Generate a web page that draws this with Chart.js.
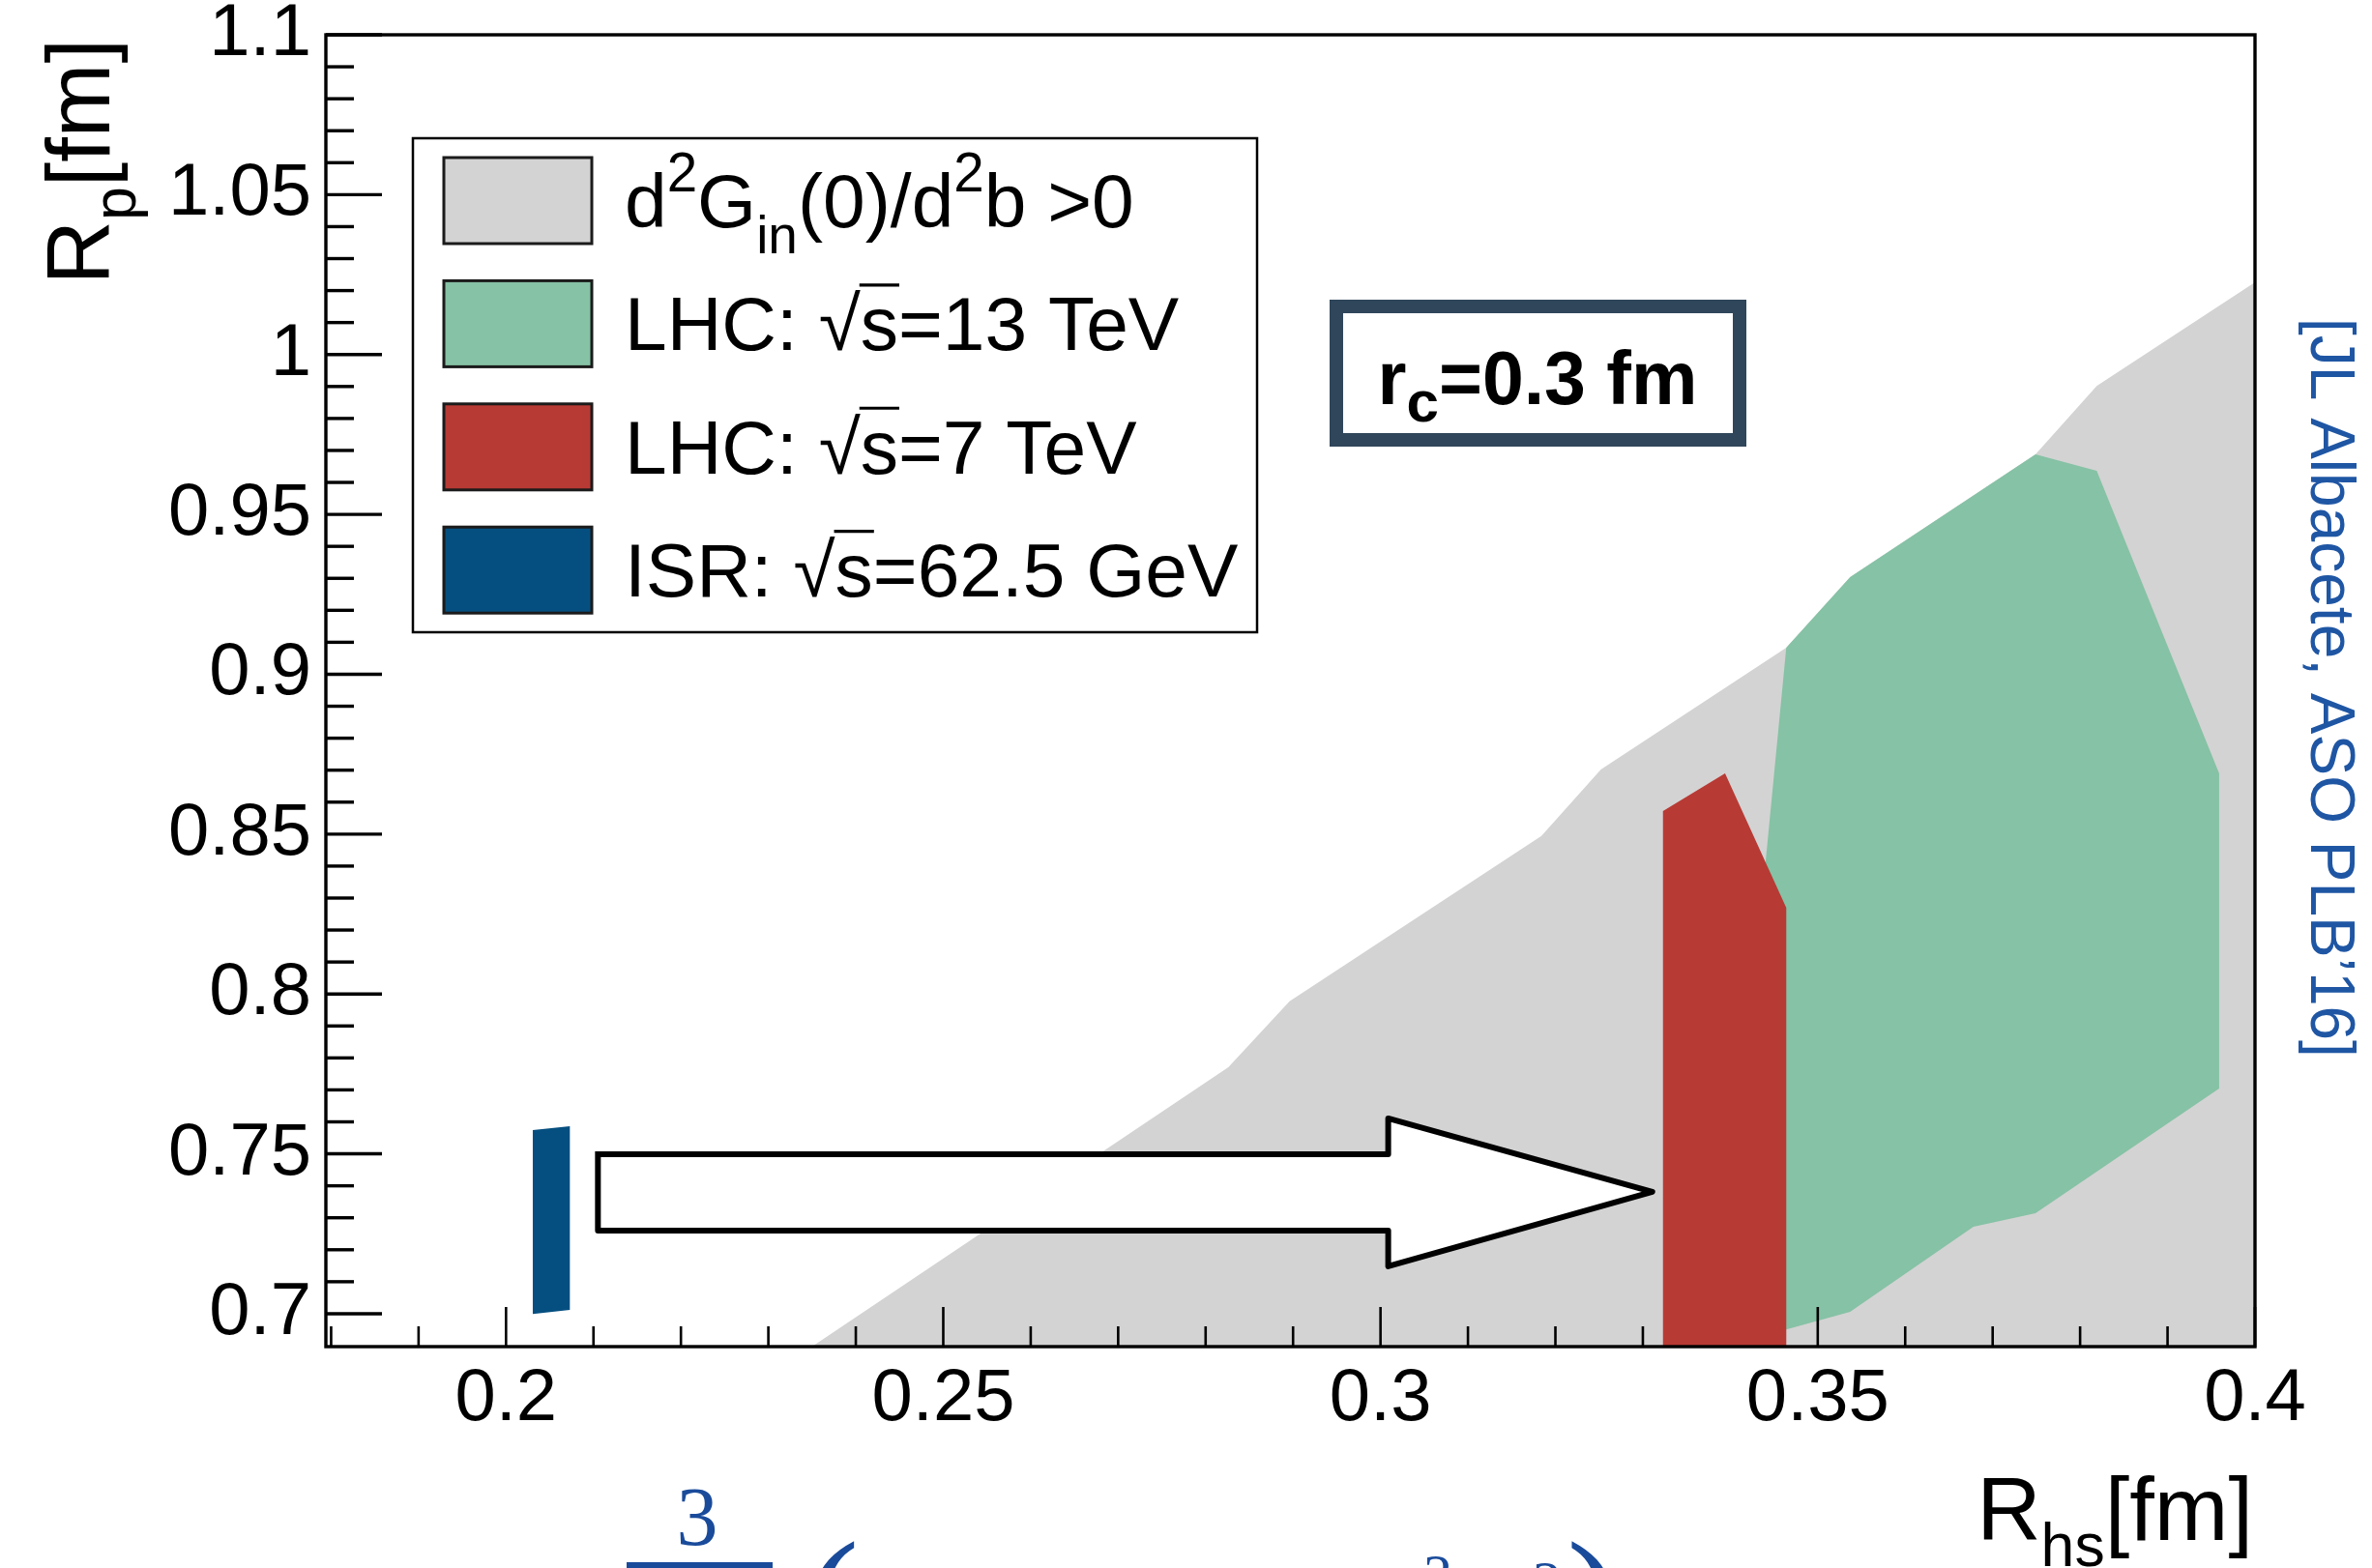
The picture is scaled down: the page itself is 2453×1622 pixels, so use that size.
<!DOCTYPE html>
<html>
<head>
<meta charset="utf-8">
<script src="https://cdn.jsdelivr.net/npm/chart.js@4.4.1/dist/chart.umd.min.js"></script>
<style>
  html, body { margin: 0; padding: 0; background: #fff; }
  canvas { display: block; }
</style>
</head>
<body>
<canvas id="chart" width="2453" height="1622"></canvas>
<script>
const FONT = 'Liberation Sans';

// Axis ranges and labelled ticks
const X_MIN = 0.1794, X_MAX = 0.4;
const Y_MIN = 0.6897, Y_MAX = 1.1;
const xMajor = [0.2, 0.25, 0.3, 0.35, 0.4];
const yMajor = [0.7, 0.75, 0.8, 0.85, 0.9, 0.95, 1, 1.05, 1.1];

// d2G_in(0)/d2b > 0 region (R_hs, R_p contour)
const greyRhs = [0.2297, 0.2826, 0.2896, 0.3184, 0.3252, 0.3464, 0.3537, 0.3749, 0.3819, 0.401, 0.401];
const greyRp  = [0.68,   0.7771, 0.7977, 0.8494, 0.8702, 0.9083, 0.9304, 0.9688, 0.9902, 1.0244, 0.68];

// LHC 13 TeV
const lhc13Rhs = [0.3464, 0.3537, 0.3749, 0.3819, 0.3959, 0.3959, 0.3749, 0.3678, 0.3537, 0.3464, 0.3440, 0.3440];
const lhc13Rp  = [0.9083, 0.9304, 0.9688, 0.9636, 0.8690, 0.7704, 0.7314, 0.7272, 0.7006, 0.6951, 0.6951, 0.8403];

// LHC 7 TeV
const lhc7Rhs = [0.3323, 0.3394, 0.3464, 0.3464, 0.3323];
const lhc7Rp  = [0.8572, 0.8690, 0.8270, 0.68,   0.68];

// ISR 62.5 GeV
const isrRhs = [0.20306, 0.2073, 0.2073, 0.20306];
const isrRp  = [0.75745, 0.75866, 0.70121, 0.6999];

// arrow from ISR to LHC
const arrowRhs = [0.21051, 0.30088, 0.30088, 0.33108, 0.30088, 0.30088, 0.21051, 0.21051];
const arrowRp  = [0.74989, 0.74989, 0.76108, 0.73810, 0.71482, 0.72600, 0.72600, 0.74989];

const seriesNames = ['d²G_in(0)/d²b >0', 'LHC: √s=13 TeV', 'LHC: √s=7 TeV', 'ISR: √s=62.5 GeV'];
const seriesColors = ['#d3d3d3', '#86c2a5', '#b83a34', '#054f80'];

// legend texts as runs: [text, kind]
const legendText = [
  [['d', ''], ['2', 'sup'], ['G', ''], ['in', 'sub'], ['(0)/d', ''], ['2', 'sup'], ['b >0', '']],
  [['LHC: ', ''], ['√', ''], ['s', 'over'], ['=13 TeV', '']],
  [['LHC: ', ''], ['√', ''], ['s', 'over'], ['=7 TeV', '']],
  [['ISR: ', ''], ['√', ''], ['s', 'over'], ['=62.5 GeV', '']]
];
const xTitle = [['R', ''], ['hs', 'sub'], ['[fm]', '']];
const yTitle = [['R', ''], ['p', 'sub'], ['[fm]', '']];
const noteText = [['r', ''], ['c', 'sub'], ['=0.3 fm', '']];
const citation = '[JL Albacete, ASO PLB’16]';

const toPoints = (xs, ys) => xs.map((x, i) => ({ x: x, y: ys[i] }));

function polygon(label, xs, ys, color, order) {
  return {
    label: label,
    data: toPoints(xs, ys),
    backgroundColor: color,
    borderColor: 'rgba(0,0,0,0)',
    borderWidth: 0,
    fill: 'shape',
    pointRadius: 0,
    order: order
  };
}

const datasets = [
  polygon(seriesNames[0], greyRhs, greyRp, seriesColors[0], 5),
  polygon(seriesNames[1], lhc13Rhs, lhc13Rp, seriesColors[1], 4),
  polygon(seriesNames[2], lhc7Rhs, lhc7Rp, seriesColors[2], 3),
  polygon(seriesNames[3], isrRhs, isrRp, seriesColors[3], 2),
  {
    label: 'arrow',
    data: toPoints(arrowRhs, arrowRp),
    backgroundColor: '#ffffff',
    borderColor: '#000000',
    borderWidth: 6,
    borderJoinStyle: 'round',
    borderCapStyle: 'square',
    fill: 'shape',
    pointRadius: 0,
    order: 1
  }
];

// text with sub/superscripts and an overline for the radicand
function drawRich(ctx, runs, x, y, o) {
  const size = o.size, weight = o.weight || 'normal', fam = o.family || FONT;
  const subScale = o.subScale || 0.7, supScale = o.supScale || 0.72;
  const parts = runs.map(([text, kind]) => {
    const s = kind === 'sub' ? size * subScale : kind === 'sup' ? size * supScale : size;
    ctx.font = `${weight} ${s}px "${fam}"`;
    return { text, kind, s, w: ctx.measureText(text).width };
  });
  const total = parts.reduce((a, p) => a + p.w, 0);
  let cx = o.align === 'right' ? x - total : o.align === 'center' ? x - total / 2 : x;
  ctx.textAlign = 'left';
  ctx.textBaseline = 'alphabetic';
  for (const p of parts) {
    ctx.font = `${weight} ${p.s}px "${fam}"`;
    let dy = 0;
    if (p.kind === 'sub') dy = size * (o.subDrop || 0.34);
    if (p.kind === 'sup') dy = -size * (o.supRise || 0.47);
    ctx.fillText(p.text, cx, y + dy);
    if (p.kind === 'over') {
      const top = y - size * 0.86;
      ctx.save();
      ctx.strokeStyle = ctx.fillStyle;
      ctx.lineWidth = size * 0.04;
      ctx.beginPath();
      ctx.moveTo(cx - 1, top);
      ctx.lineTo(cx + p.w + 1, top);
      ctx.stroke();
      ctx.restore();
    }
    cx += p.w;
  }
}

function drawTicks(chart) {
  const ctx = chart.ctx, area = chart.chartArea;
  const xs = chart.scales.x, ys = chart.scales.y;
  ctx.save();
  ctx.strokeStyle = '#000';
  // x ticks point up from the bottom axis
  ctx.lineWidth = 2.6;
  for (let i = 18; i <= 40; i++) {
    const v = i / 100;
    const px = xs.getPixelForValue(v);
    if (px < area.left + 2 || px > area.right + 1) continue;
    const len = xMajor.some(m => Math.abs(m - v) < 1e-9) ? 41 : 21;
    ctx.beginPath();
    ctx.moveTo(px, area.bottom);
    ctx.lineTo(px, area.bottom - len);
    ctx.stroke();
  }
  // y ticks point right from the left axis
  ctx.lineWidth = 3.4;
  for (let i = 69; i <= 110; i++) {
    const v = i / 100;
    const py = ys.getPixelForValue(v);
    if (py > area.bottom - 3 || py < area.top - 1) continue;
    const len = yMajor.some(m => Math.abs(m - v) < 1e-9) ? 58 : 29;
    ctx.beginPath();
    ctx.moveTo(area.left, py);
    ctx.lineTo(area.left + len, py);
    ctx.stroke();
  }
  ctx.restore();
}

function drawFrame(chart) {
  const ctx = chart.ctx, a = chart.chartArea;
  ctx.save();
  ctx.strokeStyle = '#000';
  ctx.lineWidth = 3.4;
  ctx.strokeRect(a.left, a.top, a.right - a.left, a.bottom - a.top);
  ctx.restore();
}

function drawLegend(ctx) {
  const box = { x: 427, y: 143, w: 873, h: 511 };
  ctx.save();
  ctx.fillStyle = '#fff';
  ctx.fillRect(box.x, box.y, box.w, box.h);
  ctx.strokeStyle = '#000';
  ctx.lineWidth = 2.5;
  ctx.strokeRect(box.x, box.y, box.w, box.h);
  const pitch = 127.4;
  legendText.forEach((runs, i) => {
    const top = 163 + i * pitch;
    ctx.fillStyle = seriesColors[i];
    ctx.fillRect(459, top, 153, 89);
    ctx.strokeStyle = '#1b1b1b';
    ctx.lineWidth = 3;
    ctx.strokeRect(459, top, 153, 89);
    ctx.fillStyle = '#000';
    drawRich(ctx, runs, 646, top + 72, { size: 78.5 });
  });
  ctx.restore();
}

function drawNote(ctx) {
  ctx.save();
  ctx.strokeStyle = '#30465a';
  ctx.lineWidth = 14;
  ctx.strokeRect(1382, 317, 417, 138);
  ctx.fillStyle = '#000';
  drawRich(ctx, noteText, 1590, 418, { size: 77, weight: 'bold', subScale: 0.78, subDrop: 0.24, align: 'center' });
  ctx.restore();
}

function drawTitles(ctx) {
  ctx.save();
  ctx.fillStyle = '#000';
  drawRich(ctx, xTitle, 2330, 1593, { size: 92, subScale: 0.68, subDrop: 0.29, align: 'right' });
  ctx.translate(113, 40);
  ctx.rotate(-Math.PI / 2);
  drawRich(ctx, yTitle, 0, 0, { size: 92, subScale: 0.68, subDrop: 0.29, align: 'right' });
  ctx.restore();
}

function drawCitation(ctx) {
  ctx.save();
  ctx.fillStyle = '#1f56a4';
  ctx.font = `64px "${FONT}"`;
  ctx.textAlign = 'left';
  ctx.textBaseline = 'alphabetic';
  ctx.translate(2390, 329);
  ctx.rotate(Math.PI / 2);
  ctx.fillText(citation, 0, 0);
  ctx.restore();
}

// fragment of the formula below the figure
function drawFormula(ctx) {
  ctx.save();
  ctx.fillStyle = '#1a4b9b';
  ctx.textBaseline = 'alphabetic';
  ctx.font = '86px "Liberation Serif"';
  ctx.textAlign = 'center';
  ctx.fillText('3', 721, 1598);
  ctx.fillRect(648, 1616, 151, 8);
  ctx.textAlign = 'left';
  ctx.font = '170px "Liberation Serif"';
  ctx.fillText('(', 832, 1712);
  ctx.fillText(')', 1620, 1712);
  ctx.font = '60px "Liberation Serif"';
  ctx.fillText('2', 1472, 1649);
  ctx.fillText('2', 1585, 1656);
  ctx.restore();
}

const rootStyle = {
  id: 'rootStyle',
  afterDatasetDraw(chart, args) {
    // axis ticks sit above the grey and green areas, under the 7 TeV band
    if (args.index === 1) drawTicks(chart);
  },
  afterDatasetsDraw(chart) {
    drawFrame(chart);
  },
  afterDraw(chart) {
    const ctx = chart.ctx;
    drawLegend(ctx);
    drawNote(ctx);
    drawTitles(ctx);
    drawCitation(ctx);
    drawFormula(ctx);
  }
};

const fmt = v => String(+(+v).toFixed(2));

new Chart(document.getElementById('chart'), {
  type: 'line',
  data: { datasets: datasets },
  options: {
    responsive: false,
    animation: false,
    events: [],
    layout: { padding: { top: 36, right: 121, left: 0, bottom: 0 } },
    plugins: { legend: { display: false }, tooltip: { enabled: false } },
    elements: { line: { tension: 0 }, point: { radius: 0 } },
    scales: {
      x: {
        type: 'linear',
        min: X_MIN,
        max: X_MAX,
        grid: { display: false },
        border: { display: false },
        afterBuildTicks: s => { s.ticks = xMajor.map(v => ({ value: v })); },
        afterFit: s => { s.height = 229; },
        ticks: {
          padding: 17,
          autoSkip: false,
          maxRotation: 0,
          color: '#000',
          font: { family: FONT, size: 76, lineHeight: 0.8 },
          callback: v => fmt(v)
        }
      },
      y: {
        type: 'linear',
        min: Y_MIN,
        max: Y_MAX,
        grid: { display: false },
        border: { display: false },
        afterBuildTicks: s => { s.ticks = yMajor.map(v => ({ value: v })); },
        afterFit: s => { s.width = 337; },
        ticks: {
          padding: 7,
          autoSkip: false,
          color: '#000',
          font: { family: FONT, size: 76, lineHeight: 0.25 },
          callback: v => fmt(v)
        }
      }
    }
  },
  plugins: [rootStyle]
});
</script>
</body>
</html>
